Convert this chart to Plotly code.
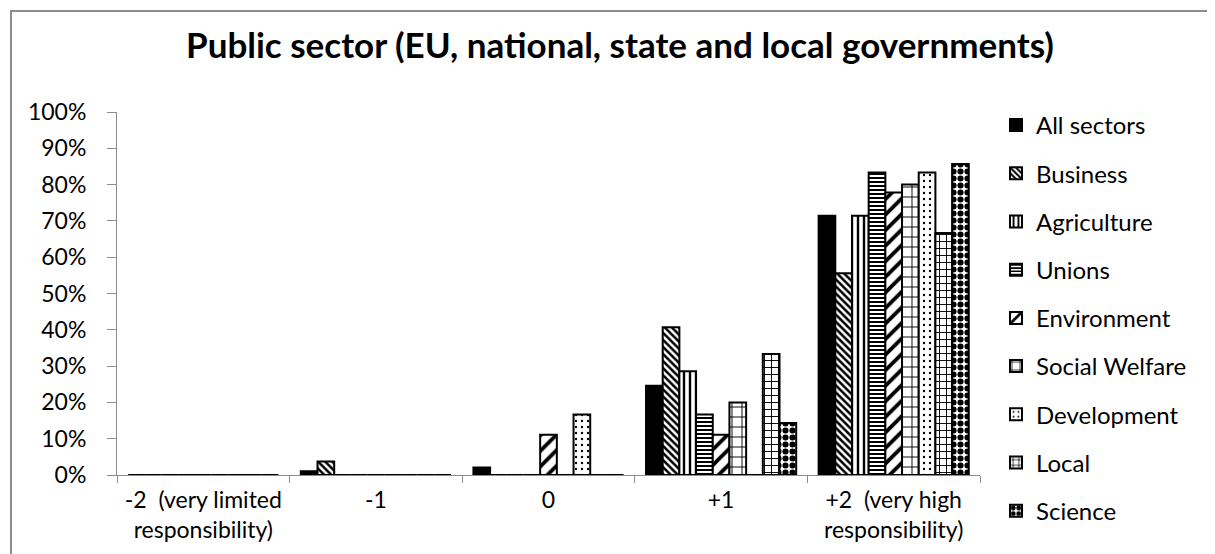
import plotly.graph_objects as go

categories = ["-2\u00a0\u00a0(very limited<br>responsibility)", "-1", "0", "+1",
              "+2\u00a0\u00a0(very high<br>responsibility)"]
series_names = ["All sectors", "Business", "Agriculture", "Unions", "Environment",
                "Social Welfare", "Development", "Local", "Science"]

all_sectors = [0.0, 0.010, 0.021, 0.246, 0.714]
business = [0.0, 0.037, 0.0, 0.407, 0.556]
agriculture = [0.0, 0.0, 0.0, 0.286, 0.714]
unions = [0.0, 0.0, 0.0, 0.167, 0.833]
environment = [0.0, 0.0, 0.111, 0.111, 0.778]
social_welfare = [0.0, 0.0, 0.0, 0.200, 0.800]
development = [0.0, 0.0, 0.167, 0.0, 0.833]
local = [0.0, 0.0, 0.0, 0.333, 0.667]
science = [0.0, 0.0, 0.0, 0.143, 0.857]

values = [all_sectors, business, agriculture, unions, environment,
          social_welfare, development, local, science]

# pattern styles (shape, size, solidity)
patterns = [
    ("", 8, 0.3),
    ("\\", 5, 0.5),
    ("|", 6, 0.4),
    ("-", 4, 0.5),
    ("/", 11, 0.35),
    ("+", 10, 0.18),
    (".", 6, 0.12),
    ("+", 7, 0.25),
    (".", 7, 0.6),
]

FONT = "Lato"
W, H = 1215, 554
L, R, T, B = 109, 243, 104, 87

fig = go.Figure()
for i, (name, vals) in enumerate(zip(series_names, values)):
    shape, size, sol = patterns[i]
    marker = dict(line=dict(color="black", width=2))
    if i == 0:
        marker["color"] = "black"
    else:
        marker["color"] = "white"
        marker["pattern"] = dict(shape=shape, fgcolor="black", bgcolor="white",
                                 size=size, solidity=sol, fillmode="replace")
    fig.add_trace(go.Bar(x=categories, y=vals, name=name, marker=marker,
                         legendgroup=name))

pw = W - L - R
ph = H - T - B
base = H - B
fig.add_shape(type="rect", xref="paper", yref="paper",
              x0=(3 - L) / pw, x1=(1212 - L) / pw,
              y0=(base - 552) / ph, y1=(base - 3) / ph,
              line=dict(color="#8c8c8c", width=2), layer="below")

fig.update_layout(
    width=W, height=H,
    margin=dict(l=L, r=R, t=T, b=B),
    paper_bgcolor="white", plot_bgcolor="white",
    barmode="group", bargap=0.13, bargroupgap=0,
    font=dict(family=FONT, color="black", size=22),
    title=dict(text="<b>Public sector (EU, national, state and local governments)</b>",
               x=612 / W, xref="container", xanchor="center",
               y=1 - 38 / H, yref="container", yanchor="middle",
               font=dict(family=FONT, size=35, color="black")),
    showlegend=True,
    legend=dict(x=(988 - L) / pw, xanchor="left", y=(base - 95) / ph, yanchor="top",
                font=dict(family=FONT, size=24, color="black"),
                tracegroupgap=14, itemwidth=30, bgcolor="rgba(0,0,0,0)",
                maxheight=700),
    xaxis=dict(type="category", showline=True, linecolor="#8c8c8c", linewidth=1,
               ticks="outside", tickson="boundaries", ticklen=7, tickcolor="#8c8c8c",
               ticklabelstandoff=4,
               showgrid=False, tickfont=dict(family=FONT, size=23)),
    yaxis=dict(range=[0, 1], tickvals=[i / 10 for i in range(11)],
               tickformat=".0%", showline=True, linecolor="#8c8c8c", linewidth=1,
               ticks="outside", ticklen=9, tickcolor="#8c8c8c", showgrid=False,
               ticklabelstandoff=16,
               zeroline=False, tickfont=dict(family=FONT, size=23)),
)

fig.write_html("out.html")
